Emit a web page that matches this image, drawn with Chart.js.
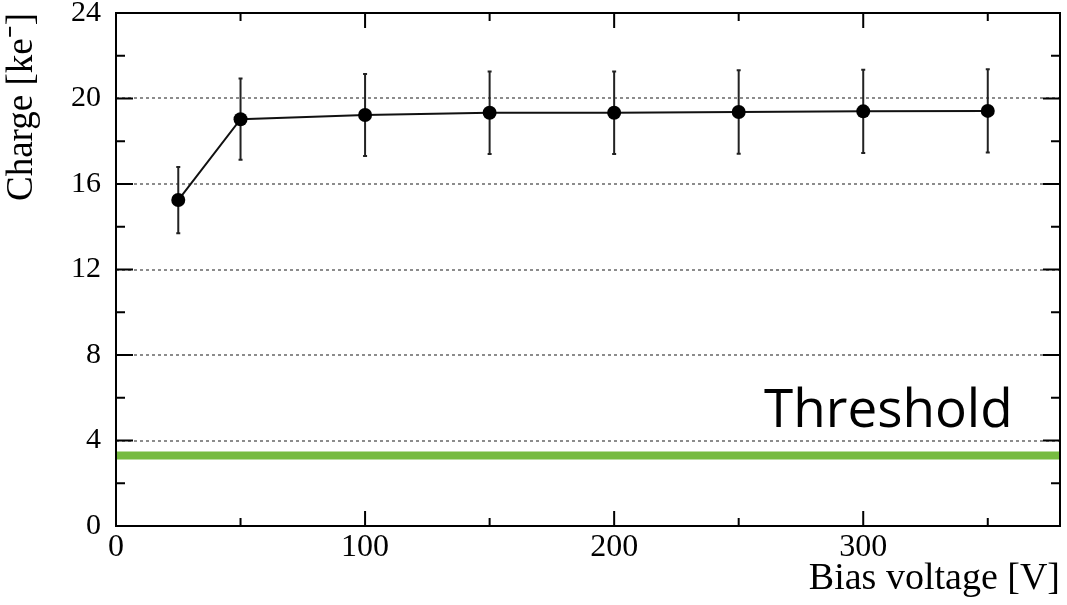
<!DOCTYPE html>
<html>
<head>
<meta charset="utf-8">
<script src="https://cdn.jsdelivr.net/npm/chart.js@4"></script>
<style>
  body { margin: 0; background: #fff; }
  #wrap { width: 1067px; height: 605px; }
</style>
</head>
<body>
<div id="wrap"><canvas id="chargeChart"></canvas></div>
<script>
// measured charge vs bias voltage
const biasVoltage = [25, 50, 100, 150, 200, 250, 300, 350];
const charge = [15.25, 19.03, 19.23, 19.33, 19.33, 19.37, 19.40, 19.42];
const chargeErr = [1.55, 1.90, 1.92, 1.93, 1.93, 1.95, 1.95, 1.95];
const thresholdCharge = 3.3;

const xTickLabels = [0, 100, 200, 300];
const yTickLabels = [0, 4, 8, 12, 16, 20, 24];
const xRange = [0, 379];
const yRange = [0, 24];

const serif = "Liberation Serif";

// ROOT style error bars, drawn under the markers
const errorBars = {
    id: "errorBars",
    beforeDatasetsDraw(chart) {
        const ctx = chart.ctx;
        const xs = chart.scales.x, ys = chart.scales.y;
        ctx.save();
        ctx.strokeStyle = "#222";
        ctx.lineWidth = 2;
        ctx.beginPath();
        biasVoltage.forEach(function (v, i) {
            const px = xs.getPixelForValue(v);
            const top = ys.getPixelForValue(charge[i] + chargeErr[i]);
            const bot = ys.getPixelForValue(charge[i] - chargeErr[i]);
            ctx.moveTo(px, top); ctx.lineTo(px, bot);
            ctx.moveTo(px - 2, top); ctx.lineTo(px + 2, top);
            ctx.moveTo(px - 2, bot); ctx.lineTo(px + 2, bot);
        });
        ctx.stroke();
        ctx.restore();
    }
};

// frame box with inward ticks + threshold label
const frame = {
    id: "frame",
    afterDraw(chart) {
        const ctx = chart.ctx;
        const a = chart.chartArea;
        const xs = chart.scales.x, ys = chart.scales.y;
        ctx.save();
        ctx.strokeStyle = "#000";
        ctx.lineWidth = 2;
        ctx.strokeRect(a.left, a.top, a.right - a.left, a.bottom - a.top);
        ctx.beginPath();
        for (let v = xRange[0]; v <= xRange[1]; v += 50) {
            const px = xs.getPixelForValue(v);
            const len = v % 100 === 0 ? 15 : 8;
            ctx.moveTo(px, a.bottom); ctx.lineTo(px, a.bottom - len);
            ctx.moveTo(px, a.top); ctx.lineTo(px, a.top + len);
        }
        for (let v = yRange[0]; v <= yRange[1]; v += 2) {
            const py = ys.getPixelForValue(v);
            const len = v % 4 === 0 ? 17 : 9;
            ctx.moveTo(a.left, py); ctx.lineTo(a.left + len, py);
            ctx.moveTo(a.right, py); ctx.lineTo(a.right - len, py);
        }
        ctx.stroke();

        ctx.fillStyle = "#000";
        ctx.font = '53px "Open Sans"';
        ctx.textAlign = "right";
        ctx.textBaseline = "alphabetic";
        ctx.fillText("Threshold", xs.getPixelForValue(360), ys.getPixelForValue(4.65));
        ctx.restore();
    }
};

new Chart(document.getElementById("chargeChart"), {
    type: "line",
    data: {
        datasets: [{
            label: "Charge",
            data: biasVoltage.map((v, i) => ({ x: v, y: charge[i] })),
            borderColor: "#111",
            borderWidth: 2,
            pointRadius: 7,
            pointBorderWidth: 0,
            pointBackgroundColor: "#000",
            tension: 0
        }, {
            label: "Threshold",
            data: xRange.map(v => ({ x: v, y: thresholdCharge })),
            borderColor: "#76bb40",
            borderWidth: 8,
            pointRadius: 0
        }]
    },
    options: {
        responsive: true,
        maintainAspectRatio: false,
        animation: false,
        layout: { padding: { top: 13, right: 6, left: 0, bottom: 0 } },
        plugins: { legend: { display: false }, tooltip: { enabled: false } },
        scales: {
            x: {
                type: "linear",
                min: xRange[0],
                max: xRange[1],
                afterBuildTicks: s => { s.ticks = xTickLabels.map(v => ({ value: v })); },
                afterFit: s => { s.height = 79; s.paddingLeft = 0; s.paddingRight = 0; },
                grid: { display: false, drawTicks: false },
                border: { display: false },
                ticks: {
                    font: { family: serif, size: 32 },
                    color: "#000",
                    padding: 2,
                    maxRotation: 0,
                    autoSkip: false
                },
                title: {
                    display: true,
                    text: "Bias voltage [V]",
                    align: "end",
                    color: "#000",
                    font: { family: serif, size: 38 },
                    padding: { top: 0, bottom: 3 }
                }
            },
            y: {
                type: "linear",
                min: yRange[0],
                max: yRange[1],
                afterBuildTicks: s => { s.ticks = yTickLabels.map(v => ({ value: v })); },
                afterFit: s => { s.width = 116; s.paddingTop = 0; s.paddingBottom = 0; },
                grid: {
                    drawTicks: false,
                    lineWidth: 2,
                    color: c => (c.tick && (c.tick.value === yRange[0] || c.tick.value === yRange[1])) ? "rgba(0,0,0,0)" : "#8c8c8c"
                },
                border: { display: false, dash: [3, 3] },
                ticks: {
                    font: { family: serif, size: 30 },
                    color: "#000",
                    padding: 15
                },
                title: {
                    display: true,
                    text: "Charge [ke\u207B]",
                    align: "end",
                    color: "#000",
                    font: { family: serif, size: 37 },
                    padding: { top: 0, bottom: 0 }
                }
            }
        }
    },
    plugins: [errorBars, frame]
});
</script>
</body>
</html>
